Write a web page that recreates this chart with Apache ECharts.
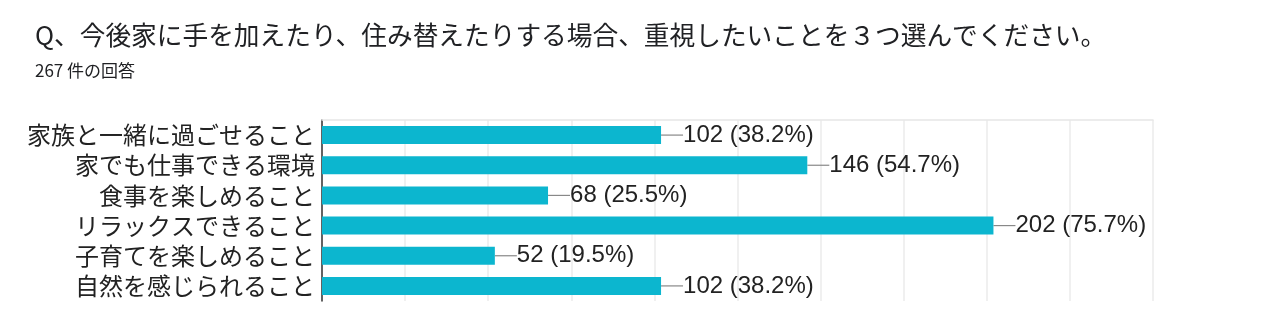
<!DOCTYPE html>
<html>
<head>
<meta charset="utf-8">
<script src="https://cdn.jsdelivr.net/npm/echarts@6/dist/echarts.min.js"></script>
<style>
  html, body { margin: 0; padding: 0; background: #ffffff; }
  #chart { width: 1280px; height: 322px; }
</style>
</head>
<body>
<div id="chart"></div>
<script>
// Survey question and response count
const titleText = 'Q、今後家に手を加えたり、住み替えたりする場合、重視したいことを３つ選んでください。';
const totalResponses = 267;
const subtitleText = totalResponses + ' 件の回答';

// Answer options (top to bottom) and number of respondents choosing each
const categories = [
  '家族と一緒に過ごせること',
  '家でも仕事できる環境',
  '食事を楽しめること',
  'リラックスできること',
  '子育てを楽しめること',
  '自然を感じられること'
];
const counts = [102, 146, 68, 202, 52, 102];

// Value axis range and step
const axisMax = 250;
const axisStep = 25;

const chart = echarts.init(document.getElementById('chart'), null, { renderer: 'canvas' });

chart.setOption({
  backgroundColor: '#ffffff',
  animation: false,
  title: [
    {
      text: titleText,
      left: 30,
      top: 17,
      textStyle: { fontFamily: 'Noto Sans CJK JP', fontSize: 25.7, fontWeight: 'normal', color: '#202124' }
    },
    {
      text: subtitleText,
      left: 30,
      top: 57,
      textStyle: { fontFamily: 'Noto Sans CJK JP', fontSize: 17, fontWeight: 'normal', color: '#202124' }
    }
  ],
  grid: { left: 322, right: 127, top: 120, height: 181, containLabel: false },
  xAxis: {
    type: 'value',
    position: 'top',
    min: 0,
    max: axisMax,
    interval: axisStep,
    axisLine: { show: true, lineStyle: { color: '#e6e6e6', width: 1.5 } },
    axisTick: { show: false },
    axisLabel: { show: false },
    splitLine: { show: true, lineStyle: { color: '#ebebeb', width: 1.5 } }
  },
  yAxis: {
    type: 'category',
    data: categories,
    inverse: true,
    axisLine: { show: true, lineStyle: { color: '#333333', width: 1.5 } },
    axisTick: { show: false },
    axisLabel: {
      interval: 0,
      margin: 7,
      fontFamily: 'Noto Sans CJK JP',
      fontSize: 24,
      color: '#222222'
    }
  },
  series: [{
    type: 'bar',
    data: counts,
    barWidth: 18,
    itemStyle: { color: '#0cb6cf' },
    label: {
      show: true,
      position: 'right',
      distance: 1,
      fontFamily: 'Liberation Sans',
      fontSize: 24,
      color: '#222222',
      formatter: p => p.value + ' (' + (p.value / totalResponses * 100).toFixed(1) + '%)'
    },
    labelLayout: { dx: 21 },
    labelLine: { show: true, lineStyle: { color: '#888888', width: 1.2 } }
  }]
});
</script>
</body>
</html>
